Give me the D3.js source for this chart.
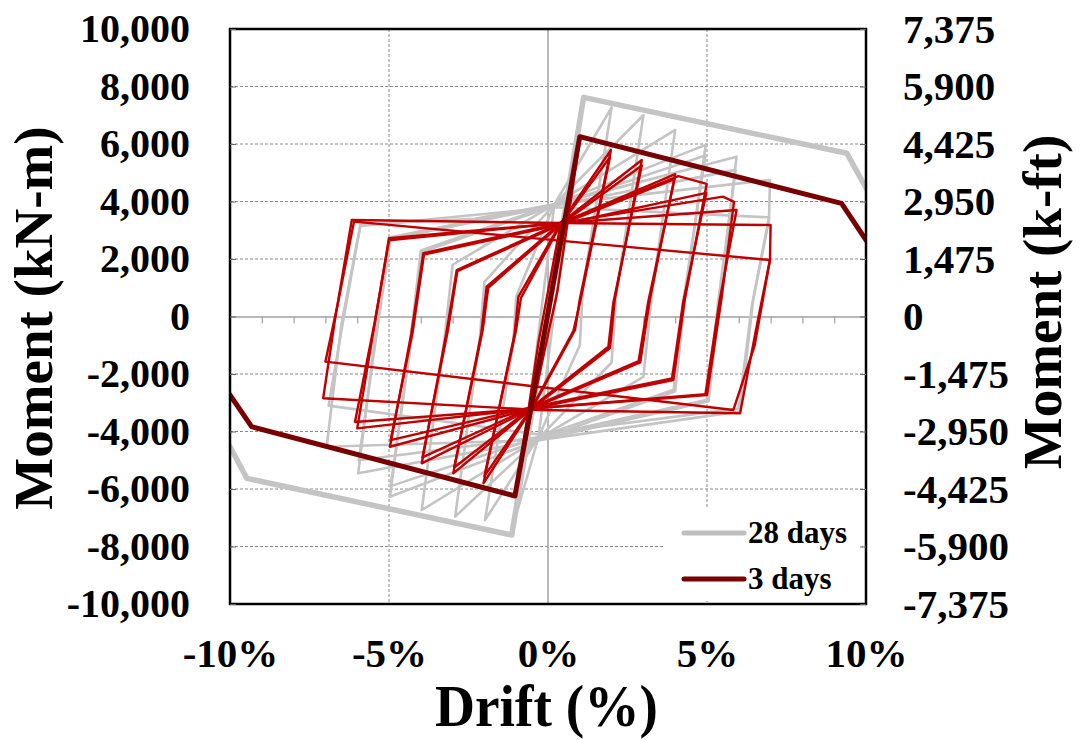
<!DOCTYPE html>
<html>
<head>
<meta charset="utf-8">
<script src="https://cdn.jsdelivr.net/npm/d3@7"></script>
<style>
  html, body { margin: 0; padding: 0; background: #fff; }
  svg text { font-family: "Liberation Serif", "Times New Roman", serif; font-weight: bold; fill: #000; }
</style>
</head>
<body>
<div id="chart"></div>
<script>
// axis ticks
const driftTicks = [-10, -5, 0, 5, 10]
const driftMinor = [-9, -8, -7, -6, -4, -3, -2, -1, 1, 2, 3, 4, 6, 7, 8, 9]
const momentTicks = [-10000, -8000, -6000, -4000, -2000, 0, 2000, 4000, 6000, 8000, 10000]
const kftTicks = [-7375, -5900, -4425, -2950, -1475, 0, 1475, 2950, 4425, 5900, 7375]

// 28 days: cyclic loops, [drift %, moment kN-m]
const gray1 = [[0, 0], [1.0, 6900], [0.35, 1500], [-0.3, -4200], [-1.0, -6900], [-0.4, -1500], [0.2, 3900]]
const gray2 = [[0.2, 3900], [2.0, 7270], [1.1, 1000], [1.0, -1000], [-0.3, -4200], [-1.98, -7080], [-1.1, -1000], [-1.0, 700], [0.2, 3900]]
const gray3 = [[0.2, 3900], [3.0, 7000], [2.15, 800], [2.0, -1600], [-0.3, -4250], [-2.92, -6960], [-2.15, -800], [-2.0, 1200], [0.2, 3900]]
const gray4 = [[0.2, 3900], [4.0, 6490], [3.25, 600], [3.0, -2100], [-0.3, -4250], [-3.97, -6730], [-3.25, -700], [-3.0, 1800], [0.2, 3900]]
const gray5 = [[0.2, 3900], [4.96, 5970], [4.3, 600], [4.0, -2600], [-0.3, -4300], [-4.97, -6270], [-4.3, -600], [-4.0, 2300], [0.2, 3900]]
const gray5b = [[0.2, 3850], [4.95, 5600], [4.25, 500], [3.95, -2550], [-0.3, -4200], [-4.95, -5900], [-4.25, -500], [-3.95, 2250], [0.2, 3850]]
const gray6 = [[0.2, 3900], [5.93, 5560], [5.4, 600], [5.05, -2950], [-0.3, -4300], [-5.97, -5455], [-5.4, -400], [-5.0, 2750], [0.2, 3900]]
const gray6b = [[0.2, 3850], [5.9, 5100], [5.35, 500], [5.0, -2900], [-0.3, -4200], [-5.95, -5000], [-5.35, -300], [-4.95, 2700], [0.2, 3850]]
const gray7 = [[0.2, 3900], [6.98, 4750], [6.95, 3360], [6.45, 574], [6.05, -3300], [-0.3, -4300], [-6.96, -4530], [-6.5, -300], [-5.9, 3200], [-2.3, 3400], [0.2, 3900]]
const gray7b = [[0.2, 3800], [6.95, 3450], [6.4, 300], [6.0, -3200], [-0.3, -4100], [-6.9, -3100], [-6.45, -200], [-5.9, 3150], [0.2, 3800]]
const grayEnvelope = [[-10, -4530], [-9.47, -5630], [-1.14, -7600], [1.12, 7620], [9.4, 5676], [10, 4470]]

// 3 days
const red1 = [[0, 0], [1.0, 6150], [0.3, 900], [-0.5, -3200], [-1.0, -6100], [-0.3, -900], [0.4, 3250]]
const red2a = [[0.4, 3250], [1.98, 5790], [1.0, 600], [0.85, -470], [-0.5, -3200], [-2.03, -5800], [-1.05, -600], [-0.93, 690], [0.4, 3250]]
const red2b = [[0.4, 3200], [1.95, 5550], [1.0, 450], [0.8, -500], [-0.5, -3150], [-2.0, -5550], [-1.0, -450], [-0.85, 650], [0.4, 3200]]
const red3a = [[0.4, 3250], [2.95, 5443], [2.1, 600], [1.95, -1100], [-0.5, -3200], [-2.98, -5455], [-2.1, -600], [-1.93, 1037], [0.4, 3250]]
const red3b = [[0.4, 3200], [2.95, 5250], [2.05, 450], [1.9, -1050], [-0.5, -3150], [-2.95, -5250], [-2.05, -450], [-1.88, 1000], [0.4, 3200]]
const red4a = [[0.4, 3250], [4.0, 4950], [3.2, 574], [2.9, -1600], [-0.5, -3200], [-3.97, -5107], [-3.2, -600], [-2.87, 1617], [0.4, 3250]]
const red4b = [[0.4, 3200], [3.98, 4780], [3.15, 500], [2.85, -1550], [-0.5, -3150], [-3.95, -4900], [-3.15, -500], [-2.85, 1580], [0.4, 3200]]
const red5a = [[0.4, 3250], [4.1, 4880], [4.99, 4610], [4.3, 574], [3.94, -2210], [-0.5, -3200], [-4.97, -4530], [-4.3, -600], [-3.92, 2200], [0.4, 3250]]
const red5b = [[0.4, 3200], [4.98, 4300], [4.25, 500], [3.9, -2150], [-0.5, -3150], [-4.95, -4300], [-4.25, -500], [-3.9, 2150], [0.4, 3200]]
const red6a = [[0.4, 3250], [5.5, 4170], [5.85, 3990], [5.45, 574], [5.0, -2730], [-0.5, -3200], [-6.0, -3890], [-5.43, -120], [-5.0, 2720], [0.4, 3250]]
const red6b = [[0.4, 3250], [5.93, 3704], [5.4, 574], [4.95, -2700], [-0.5, -3200], [-6.07, -3670], [-5.45, -200], [-5.0, 2650], [0.4, 3250]]
const red7a = [[0.4, 3250], [7.0, 3183], [6.98, 1965], [6.6, -120], [6.04, -3365], [-0.3, -3250], [-7.07, -2845], [-6.7, -120], [-6.17, 3357], [0.4, 3250]]
const red7b = [[-6.1, 3300], [6.98, 1965], [6.5, -1000], [5.83, -3252], [-7.0, -1570], [-6.6, 500], [-6.1, 3300]]
const redEnvelope = [[-10, -2730], [-9.32, -3833], [-1.04, -6243], [1.0, 6255], [9.23, 3937], [10, 2660]]

const grayLoops = [gray1, gray2, gray3, gray4, gray5, gray5b, gray6, gray6b, gray7, gray7b]
const redLoops = [red1, red2a, red2b, red3a, red3b, red4a, red4b, red5a, red5b, red6a, red6b, red7a, red7b]

const legendItems = [
  { label: '28 days', color: '#bfbfbf' },
  { label: '3 days', color: '#780000' }
]

const W = 1081, H = 740
const plot = { left: 230, right: 866, top: 29, bottom: 604 }

const svg = d3.select('#chart').append('svg')
  .attr('width', W)
  .attr('height', H)

const x = d3.scaleLinear().domain([-10, 10]).range([plot.left, plot.right])
const y = d3.scaleLinear().domain([-10000, 10000]).range([plot.bottom, plot.top])
const yR = d3.scaleLinear().domain([-7375, 7375]).range([plot.bottom, plot.top])

const fmt = d3.formatLocale({ decimal: '.', thousands: ',', grouping: [3], currency: ['', ''], minus: '-' }).format(',')

svg.append('clipPath').attr('id', 'clip')
  .append('rect')
  .attr('x', plot.left).attr('y', plot.top)
  .attr('width', plot.right - plot.left).attr('height', plot.bottom - plot.top)

// grid
const grid = svg.append('g')
grid.selectAll('line.h')
  .data(momentTicks.filter(d => Math.abs(d) < 10000 && d !== 0))
  .join('line')
  .attr('x1', plot.left).attr('x2', plot.right)
  .attr('y1', d => y(d)).attr('y2', d => y(d))
  .attr('stroke', '#8a8a8a').attr('stroke-width', 1).attr('stroke-dasharray', '3,2')
grid.selectAll('line.v')
  .data([-5, 5])
  .join('line')
  .attr('x1', d => x(d)).attr('x2', d => x(d))
  .attr('y1', plot.top).attr('y2', plot.bottom)
  .attr('stroke', '#8a8a8a').attr('stroke-width', 1).attr('stroke-dasharray', '3,2')
grid.append('line')
  .attr('x1', x(0)).attr('x2', x(0))
  .attr('y1', plot.top).attr('y2', plot.bottom)
  .attr('stroke', '#a0a0a0').attr('stroke-width', 1.5)

// zero axis with minor drift ticks
svg.append('g')
  .attr('transform', `translate(0,${y(0)})`)
  .call(d3.axisBottom(x).tickValues(driftMinor).tickSizeInner(7).tickSizeOuter(0).tickFormat(''))
  .call(g => g.select('.domain').attr('stroke', '#a0a0a0').attr('stroke-width', 1.5))
  .call(g => g.selectAll('.tick line').attr('stroke', '#a0a0a0').attr('stroke-width', 1.2))

// curves
const line = d3.line().x(d => x(d[0])).y(d => y(d[1]))
const curves = svg.append('g').attr('clip-path', 'url(#clip)')
  .attr('fill', 'none').attr('stroke-linejoin', 'round').attr('stroke-linecap', 'round')

curves.selectAll('path.gray')
  .data(grayLoops)
  .join('path')
  .attr('d', line)
  .attr('stroke', '#c4c4c4').attr('stroke-width', 2.6)
curves.append('path')
  .attr('d', line(grayEnvelope))
  .attr('stroke', '#c4c4c4').attr('stroke-width', 5.5)
curves.selectAll('path.red')
  .data(redLoops)
  .join('path')
  .attr('d', line)
  .attr('stroke', '#c00000').attr('stroke-width', 2.4)
curves.append('path')
  .attr('d', line(redEnvelope))
  .attr('stroke', '#780000').attr('stroke-width', 5)

// legend
const legend = svg.append('g')
legend.append('rect')
  .attr('x', 665).attr('y', 508).attr('width', 197).attr('height', 93)
  .attr('fill', '#fff')
legendItems.forEach((item, i) => {
  const ly = 533 + i * 46
  legend.append('line')
    .attr('x1', 684).attr('x2', 744).attr('y1', ly).attr('y2', ly)
    .attr('stroke', item.color).attr('stroke-width', 5).attr('stroke-linecap', 'round')
  legend.append('text')
    .attr('x', 748).attr('y', ly + 10)
    .attr('font-size', 31)
    .text(item.label)
})

// border
svg.append('rect')
  .attr('x', plot.left).attr('y', plot.top)
  .attr('width', plot.right - plot.left).attr('height', plot.bottom - plot.top)
  .attr('fill', 'none').attr('stroke', '#000').attr('stroke-width', 2.5)

// axes
svg.append('g')
  .attr('transform', `translate(${plot.left},0)`)
  .call(d3.axisLeft(y).tickValues(momentTicks).tickSizeInner(-6).tickSizeOuter(0).tickPadding(40).tickFormat(fmt))
  .call(g => g.select('.domain').remove())
  .call(g => g.selectAll('.tick line').attr('stroke', '#666'))
  .call(g => g.selectAll('text').attr('font-size', 40).attr('font-family', null))

svg.append('g')
  .attr('transform', `translate(${plot.right},0)`)
  .call(d3.axisRight(yR).tickValues(kftTicks).tickSizeInner(-6).tickSizeOuter(0).tickPadding(37).tickFormat(fmt))
  .call(g => g.select('.domain').remove())
  .call(g => g.selectAll('.tick line').attr('stroke', '#666'))
  .call(g => g.selectAll('text').attr('font-size', 41).attr('font-family', null))

svg.append('g')
  .attr('transform', `translate(0,${plot.bottom})`)
  .call(d3.axisBottom(x).tickValues(driftTicks).tickSize(0).tickPadding(34).tickFormat(d => `${d}%`))
  .call(g => g.select('.domain').remove())
  .call(g => g.selectAll('text').attr('font-size', 41).attr('font-family', null))

// titles
svg.append('text')
  .attr('transform', 'translate(52,318) rotate(-90)')
  .attr('text-anchor', 'middle')
  .attr('font-size', 55)
  .text('Moment (kN-m)')

svg.append('text')
  .attr('transform', 'translate(1061,302) rotate(-90)')
  .attr('text-anchor', 'middle')
  .attr('font-size', 55)
  .text('Moment (k-ft)')

svg.append('text')
  .attr('x', 435).attr('y', 726)
  .attr('font-size', 60)
  .attr('textLength', 223)
  .attr('lengthAdjust', 'spacingAndGlyphs')
  .text('Drift (%)')
</script>
</body>
</html>
